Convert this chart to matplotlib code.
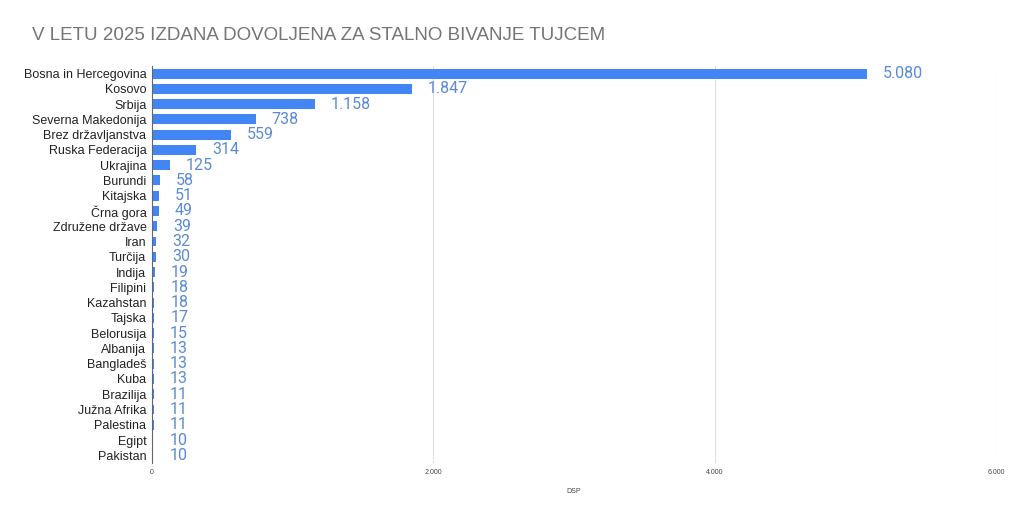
import matplotlib
matplotlib.use("Agg")
import matplotlib.pyplot as plt
from matplotlib.ticker import FuncFormatter

categories = ["Bosna in Hercegovina", "Kosovo", "Srbija", "Severna Makedonija",
              "Brez državljanstva", "Ruska Federacija", "Ukrajina", "Burundi",
              "Kitajska", "Črna gora", "Združene države", "Iran", "Turčija",
              "Indija", "Filipini", "Kazahstan", "Tajska", "Belorusija",
              "Albanija", "Bangladeš", "Kuba", "Brazilija", "Južna Afrika",
              "Palestina", "Egipt", "Pakistan"]
values = [5080, 1847, 1158, 738, 559, 314, 125, 58, 51, 49, 39, 32, 30,
          19, 18, 18, 17, 15, 13, 13, 13, 11, 11, 11, 10, 10]
xticks = [0, 2000, 4000, 6000]

def fmt(v):
    return f"{int(v):,}".replace(",", ".")

plt.rcParams['font.family'] = ['Liberation Sans', 'DejaVu Sans']

fig = plt.figure(figsize=(10.24, 5.19), dpi=100)
ax = fig.add_axes([0.1484, 0.108, 0.8243, 0.765])

y = list(range(len(categories)))
ax.barh(y, values, height=0.65, color="#4285F4", zorder=3)
for yi, v in zip(y, values):
    ax.annotate(fmt(v), (v, yi), xytext=(16, 0), textcoords="offset pixels",
                va="center", ha="left", fontsize=11.5, color="#5a8ad8",
                family=["Roboto", "DejaVu Sans"])

ax.set_ylim(len(categories) - 0.5, -0.5)
ax.set_xlim(0, 6000)
ax.set_yticks(y)
ax.set_yticklabels(categories, fontsize=9, color="#222222")
ax.set_xticks(xticks)
ax.xaxis.set_major_formatter(FuncFormatter(lambda v, p: fmt(v)))
ax.tick_params(axis="x", labelsize=5, colors="#444444", length=0, pad=4)
ax.tick_params(axis="y", length=0, pad=4)
ax.grid(axis="x", color="#e0e0e0", linewidth=0.8, zorder=0)
for s in ["top", "right", "bottom"]:
    ax.spines[s].set_visible(False)
ax.spines["left"].set_color("#666666")
ax.spines["left"].set_linewidth(0.8)
ax.spines["left"].set_zorder(4)
ax.set_xlabel("DSP", fontsize=5, color="#444444", labelpad=9)

fig.text(0.031, 0.915, "V LETU 2025 IZDANA DOVOLJENA ZA STALNO BIVANJE TUJCEM",
         fontsize=13.5, color="#757575", ha="left", va="bottom")

fig.savefig("out.png", dpi=100)
